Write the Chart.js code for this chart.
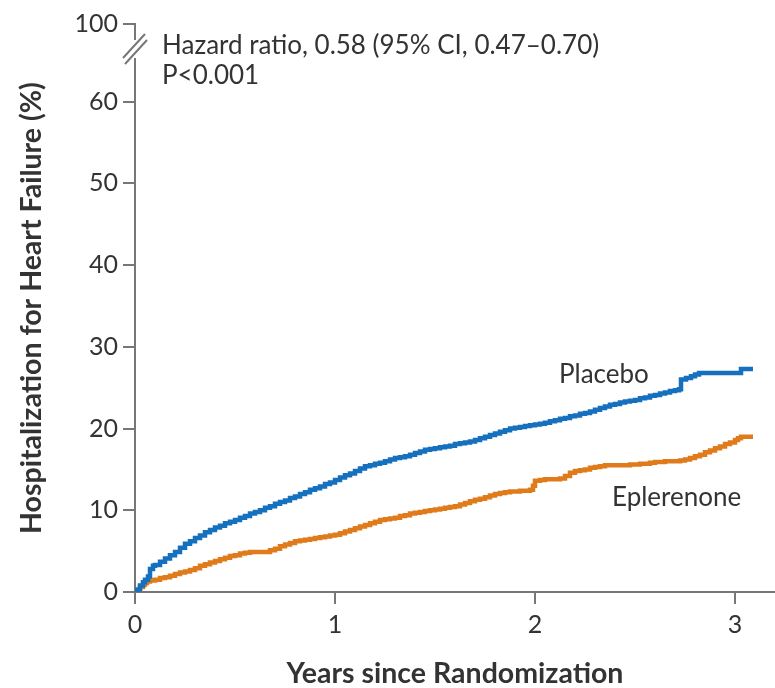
<!DOCTYPE html>
<html>
<head>
<meta charset="utf-8">
<script src="https://cdn.jsdelivr.net/npm/chart.js@4.4.1/dist/chart.umd.min.js"></script>
<style>
  html, body { margin: 0; padding: 0; background: #fff; }
  #wrap { width: 775px; height: 688px; }
</style>
</head>
<body>
<div id="wrap"><canvas id="km"></canvas></div>
<script>
// cumulative incidence, [years, percent]
var placebo = [
  [0, 0], [0.01, 0.3], [0.025, 0.8], [0.04, 1.2], [0.05, 1.5], [0.065, 1.9], [0.075, 2.8],
  [0.09, 3.2], [0.1, 3.3], [0.125, 3.7], [0.15, 4.1], [0.175, 4.5], [0.2, 4.9], [0.225, 5.4],
  [0.25, 5.9], [0.275, 6.2], [0.3, 6.6], [0.325, 6.9], [0.35, 7.3], [0.375, 7.6], [0.4, 7.9],
  [0.425, 8.1], [0.45, 8.4], [0.475, 8.6], [0.5, 8.8], [0.525, 9.1], [0.55, 9.3], [0.575, 9.6],
  [0.6, 9.8], [0.625, 10.0], [0.65, 10.3], [0.675, 10.5], [0.7, 10.8], [0.725, 11.0],
  [0.75, 11.2], [0.775, 11.5], [0.8, 11.7], [0.825, 12.0], [0.85, 12.2], [0.875, 12.5],
  [0.9, 12.7], [0.925, 12.9], [0.95, 13.2], [0.975, 13.4], [1.0, 13.7], [1.025, 14.0],
  [1.05, 14.3], [1.075, 14.5], [1.1, 14.8], [1.125, 15.1], [1.15, 15.4], [1.175, 15.5],
  [1.2, 15.7], [1.225, 15.8], [1.25, 16.0], [1.275, 16.2], [1.3, 16.4], [1.325, 16.5],
  [1.35, 16.6], [1.375, 16.8], [1.4, 17.0], [1.425, 17.2], [1.45, 17.4], [1.475, 17.5],
  [1.5, 17.6], [1.525, 17.7], [1.55, 17.8], [1.575, 17.9], [1.6, 18.1], [1.625, 18.2],
  [1.65, 18.3], [1.675, 18.4], [1.7, 18.6], [1.725, 18.8], [1.75, 19.0], [1.775, 19.2],
  [1.8, 19.4], [1.825, 19.6], [1.85, 19.8], [1.875, 20.0], [1.9, 20.1], [1.925, 20.2],
  [1.95, 20.3], [1.975, 20.4], [2.0, 20.5], [2.025, 20.6], [2.05, 20.7], [2.075, 20.9],
  [2.1, 21.0], [2.125, 21.2], [2.15, 21.3], [2.175, 21.5], [2.2, 21.6], [2.225, 21.8],
  [2.25, 21.9], [2.275, 22.1], [2.3, 22.3], [2.325, 22.5], [2.35, 22.7], [2.375, 22.9],
  [2.4, 23.0], [2.425, 23.2], [2.45, 23.3], [2.475, 23.4], [2.5, 23.5], [2.525, 23.7],
  [2.55, 23.8], [2.575, 24.0], [2.6, 24.1], [2.625, 24.3], [2.65, 24.4], [2.675, 24.6],
  [2.7, 24.7], [2.72, 24.8], [2.73, 26.0], [2.755, 26.2], [2.78, 26.4], [2.8, 26.6],
  [2.82, 26.8], [2.9, 26.8], [3.0, 26.8], [3.03, 27.3], [3.09, 27.3]
];
var eplerenone = [
  [0, 0], [0.01, 0.2], [0.025, 0.6], [0.04, 0.9], [0.05, 1.1], [0.06, 1.3], [0.075, 1.4],
  [0.1, 1.5], [0.125, 1.7], [0.15, 1.8], [0.175, 2.0], [0.2, 2.2], [0.225, 2.4], [0.25, 2.5],
  [0.275, 2.7], [0.3, 2.9], [0.325, 3.2], [0.35, 3.4], [0.375, 3.6], [0.4, 3.8], [0.425, 4.0],
  [0.45, 4.2], [0.475, 4.4], [0.5, 4.5], [0.525, 4.7], [0.55, 4.8], [0.575, 4.9], [0.65, 4.9],
  [0.675, 5.1], [0.7, 5.3], [0.725, 5.6], [0.75, 5.8], [0.775, 6.0], [0.8, 6.2], [0.825, 6.3],
  [0.85, 6.4], [0.875, 6.5], [0.9, 6.6], [0.925, 6.7], [0.95, 6.8], [0.975, 6.9], [1.0, 7.0],
  [1.025, 7.2], [1.05, 7.4], [1.075, 7.6], [1.1, 7.8], [1.125, 8.0], [1.15, 8.2], [1.175, 8.4],
  [1.2, 8.6], [1.225, 8.8], [1.25, 8.9], [1.275, 9.0], [1.3, 9.1], [1.325, 9.3], [1.35, 9.4],
  [1.375, 9.6], [1.4, 9.7], [1.425, 9.8], [1.45, 9.9], [1.475, 10.0], [1.5, 10.1],
  [1.525, 10.2], [1.55, 10.3], [1.575, 10.4], [1.6, 10.5], [1.625, 10.7], [1.65, 10.9],
  [1.675, 11.1], [1.7, 11.3], [1.725, 11.4], [1.75, 11.6], [1.775, 11.8], [1.8, 12.0],
  [1.825, 12.1], [1.85, 12.2], [1.875, 12.3], [1.925, 12.4], [1.975, 12.5], [1.99, 13.0],
  [2.0, 13.6], [2.025, 13.7], [2.05, 13.8], [2.125, 13.9], [2.15, 14.2], [2.175, 14.6],
  [2.2, 14.8], [2.225, 14.9], [2.25, 15.0], [2.275, 15.2], [2.3, 15.3], [2.325, 15.4],
  [2.35, 15.5], [2.475, 15.6], [2.525, 15.7], [2.575, 15.8], [2.6, 15.9], [2.65, 16.0],
  [2.725, 16.1], [2.75, 16.2], [2.775, 16.4], [2.8, 16.6], [2.825, 16.8], [2.85, 17.1],
  [2.875, 17.3], [2.9, 17.6], [2.925, 17.8], [2.95, 18.1], [2.975, 18.3], [3.0, 18.6],
  [3.015, 18.8], [3.03, 19.0], [3.09, 19.0]
];
var xTicks = [0, 1, 2, 3];
var yTicks = [0, 10, 20, 30, 40, 50, 60];
var yTop = 69.5;      // axis top after the break, labelled 100
var yTopLabel = '100';
var hazardText = 'Hazard ratio, 0.58 (95% CI, 0.47\u20130.70)';
var pText = 'P<0.001';

var font = 'Lato, "Open Sans", sans-serif';
var ink = '#333';
var axisGray = '#777';

function pts(a) { return a.map(function (p) { return { x: p[0], y: p[1] }; }); }

// labels, axis break
var extras = {
  id: 'extras',
  afterDraw: function (chart) {
    var c = chart.ctx, x = chart.scales.x, y = chart.scales.y;
    c.save();
    c.fillStyle = ink;
    c.textBaseline = 'alphabetic';
    c.font = '26px ' + font;
    c.fillText(hazardText, x.getPixelForValue(0.135), y.getPixelForValue(65.85));
    c.fillText(pText, x.getPixelForValue(0.135), y.getPixelForValue(62.1));
    c.fillText('Placebo', x.getPixelForValue(2.12), y.getPixelForValue(25.6));
    c.fillText('Eplerenone', x.getPixelForValue(2.385), y.getPixelForValue(10.5));

    // break in the y axis
    var ax = x.left;
    var yb = y.getPixelForValue(yTop) + 25;
    c.fillStyle = '#fff';
    c.fillRect(ax - 3, yb - 9, 6, 18);
    c.strokeStyle = axisGray;
    c.lineWidth = 2;
    c.beginPath();
    c.moveTo(ax - 12, yb + 9); c.lineTo(ax + 10, yb - 15);
    c.moveTo(ax - 10, yb + 15); c.lineTo(ax + 12, yb - 9);
    c.stroke();
    c.restore();
  }
};

new Chart(document.getElementById('km'), {
  type: 'line',
  data: {
    datasets: [
      { label: 'Placebo', data: pts(placebo), borderColor: '#1570be', borderWidth: 4.5,
        stepped: true, pointRadius: 0, fill: false },
      { label: 'Eplerenone', data: pts(eplerenone), borderColor: '#e07b1c', borderWidth: 4.5,
        stepped: true, pointRadius: 0, fill: false }
    ]
  },
  options: {
    responsive: true,
    maintainAspectRatio: false,
    animation: false,
    layout: { padding: { top: 24, right: 0, left: 0, bottom: 0 } },
    plugins: { legend: { display: false }, tooltip: { enabled: false } },
    scales: {
      x: {
        type: 'linear', min: 0, max: 3.2,
        afterBuildTicks: function (s) { s.ticks = xTicks.map(function (v) { return { value: v }; }); },
        afterFit: function (s) { s.height = 96; },
        border: { color: axisGray, width: 2 },
        grid: { drawOnChartArea: false, drawTicks: true, tickLength: 12, color: axisGray, lineWidth: 2 },
        ticks: { color: ink, font: { family: font, size: 25 }, padding: 6, maxRotation: 0 },
        title: { display: true, text: 'Years since Randomization', color: ink,
                 font: { family: font, size: 28.5, weight: 'bold' }, padding: { top: 6, bottom: -3 } }
      },
      y: {
        type: 'linear', min: 0, max: yTop,
        afterBuildTicks: function (s) {
          s.ticks = yTicks.concat([yTop]).map(function (v) { return { value: v }; });
        },
        afterFit: function (s) { s.width = 135; },
        border: { color: axisGray, width: 2 },
        grid: { drawOnChartArea: false, drawTicks: true, tickLength: 12, color: axisGray, lineWidth: 2 },
        ticks: {
          color: ink, font: { family: font, size: 25 }, padding: 5,
          callback: function (v) { return v === yTop ? yTopLabel : v; }
        },
        title: { display: true, text: 'Hospitalization for Heart Failure (%)', color: ink,
                 font: { family: font, size: 28.5, weight: 'bold' }, padding: { top: 15, bottom: 4 } }
      }
    }
  },
  plugins: [extras]
});
</script>
</body>
</html>
